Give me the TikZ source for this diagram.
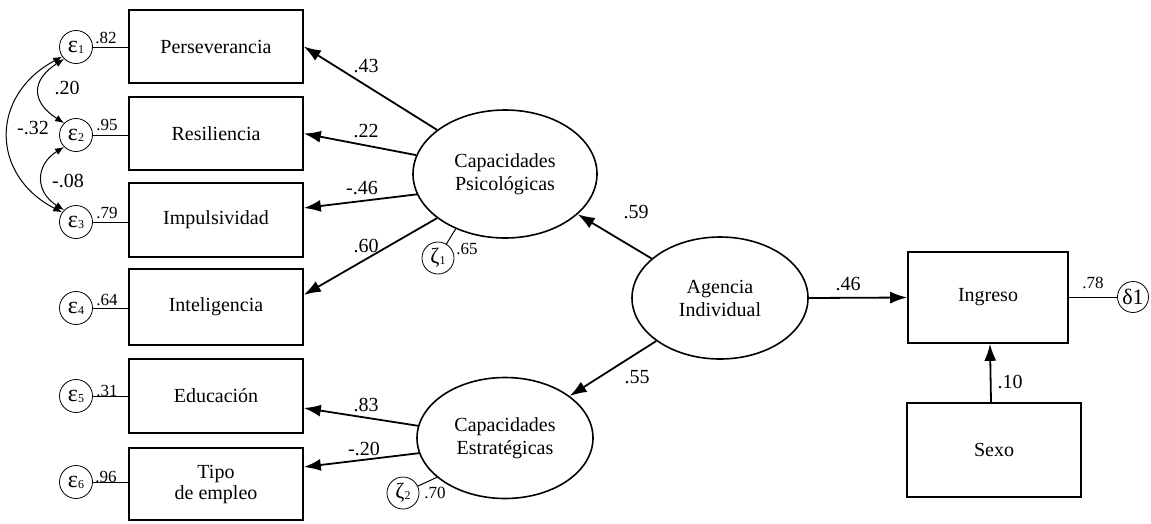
\documentclass[tikz,border=0pt]{standalone}
\usepackage{fontspec}
\setmainfont{Liberation Serif}
\usetikzlibrary{arrows.meta,calc,shapes.geometric}
\begin{document}
\begin{tikzpicture}[x=1pt,y=-1pt,
  box/.style={draw,line width=1.6pt,minimum width=174pt,minimum height=73pt,inner sep=0pt,font=\fontsize{20}{21}\selectfont,align=center},
  lat/.style={draw,ellipse,line width=1.6pt,inner sep=0pt,font=\fontsize{20}{23}\selectfont,align=center},
  err/.style={draw,circle,line width=0.8pt,minimum size=33pt,inner sep=0pt,font=\fontsize{24}{24}\selectfont},
  reg/.style={line width=1.8pt,-{Latex[length=17pt,width=12pt]}},
  cov/.style={line width=1pt,{Latex[length=9pt,width=7pt]}-{Latex[length=9pt,width=7pt]}},
  thinline/.style={line width=1pt},
  coef/.style={font=\fontsize{20}{20}\selectfont,inner sep=0pt},
  ev/.style={font=\fontsize{17}{17}\selectfont,inner sep=0pt}
]
\useasboundingbox (0,0) rectangle (1151,523);
\newcommand{\sbs}[1]{{\fontsize{12}{12}\selectfont\raisebox{-1pt}{#1}}}
% observed boxes
\node[box] (b1) at (216,46.5) {Perseverancia};
\node[box] (b2) at (216,133.5) {Resiliencia};
\node[box,minimum height=74pt] (b3) at (216,220) {Impulsividad};
\node[box,minimum height=76pt] (b4) at (216,307) {Inteligencia};
\node[box,minimum height=74pt] (b5) at (216,396) {Educación};
\node[box,minimum height=72pt] (b6) at (216,484) {Tipo\\de empleo};
\node[box,minimum width=160pt,minimum height=91pt] (ing) at (988,297.5) {Ingreso};
\node[box,minimum width=174pt,minimum height=94pt] (sexo) at (994,450) {Sexo};
% latent
\node[lat,minimum width=184pt,minimum height=128pt] (psi) at (505,174) {Capacidades\\Psicológicas};
\node[lat,minimum width=176pt,minimum height=121pt] (est) at (505,438) {Capacidades\\Estratégicas};
\node[lat,minimum width=176pt,minimum height=122pt] (ag) at (720,298) {Agencia\\Individual};
% error terms
\node[err] (e1) at (76,47) {ε\sbs{1}};
\node[err] (e2) at (76,135) {ε\sbs{2}};
\node[err] (e3) at (76,222) {ε\sbs{3}};
\node[err] (e4) at (76,308) {ε\sbs{4}};
\node[err] (e5) at (76,396) {ε\sbs{5}};
\node[err] (e6) at (76,482) {ε\sbs{6}};
\node[err,minimum size=31pt,font=\fontsize{22}{22}\selectfont] (d1) at (1133,297) {δ1};
\node[err,minimum size=32pt,font=\fontsize{22}{22}\selectfont] (z1) at (438,258) {ζ\sbs{1}};
\node[err,minimum size=32pt,font=\fontsize{22}{22}\selectfont] (z2) at (403,493) {ζ\sbs{2}};
% error links
\foreach \i in {1,...,6}{\draw[thinline] (e\i.east) -- (e\i.east -| b\i.west);}
\draw[thinline] (ing.east |- d1) -- (d1.west);
\draw[thinline] (z1) -- (psi.228);
\draw[thinline] (z2) -- (est.210);
% regressions
\draw[reg] (psi.147) -- (b1.east);
\draw[reg] (psi.168) -- (b2.east);
\draw[reg] (psi.193) -- ($(b3.east)+(0,-12)$);
\draw[reg] (psi.213) -- ($(b4.east)+(0,-12)$);
\draw[reg] (est.172) -- ($(b5.east)+(0,12)$);
\draw[reg] (est.190) -- ($(b6.east)+(0,-17)$);
\draw[reg] (ag.150) -- (psi.-29);
\draw[reg] (ag.214) -- (est.33);
\draw[reg] (ag.east) -- (ing.west);
\draw[reg] ($(sexo.north)+(-3,0)$) -- ($(ing.south)+(2,0)$);
% covariances
\draw[cov] (e1.225) .. controls (31,80) and (31,102) .. (e2.135);
\draw[cov] (e2.225) .. controls (35,165) and (35,192) .. (e3.135);
\draw[cov] (e1.215) .. controls (-10,95) and (-10,175) .. (e3.145);
% coefficient labels
\node[coef] (l1) at (366,66) {.43};
\node[coef] (l2) at (366,131) {.22};
\node[coef] (l3) at (362,188) {-.46};
\node[coef] (l4) at (366,246) {.60};
\node[coef] (l5) at (366,405) {.83};
\node[coef] (l6) at (364,449) {-.20};
\node[coef] (l7) at (636,212) {.59};
\node[coef] (l8) at (637,377) {.55};
\node[coef] (l9) at (848,284) {.46};
\node[coef] (l10) at (1010,382) {.10};
\node[coef] (c1) at (67,88) {.20};
\node[coef] (c2) at (33,128) {-.32};
\node[coef] (c3) at (68,181) {-.08};
% error variances
\node[ev] (v1) at (106,38) {.82};
\node[ev] (v2) at (107,125) {.95};
\node[ev] (v3) at (107,213) {.79};
\node[ev] (v4) at (107,300) {.64};
\node[ev] (v5) at (107,391) {.31};
\node[ev] (v6) at (106,477) {.96};
\node[ev] (v7) at (1093,283) {.78};
\node[ev] (v8) at (467,249) {.65};
\node[ev] (v9) at (435,493) {.70};
\end{tikzpicture}
\end{document}
